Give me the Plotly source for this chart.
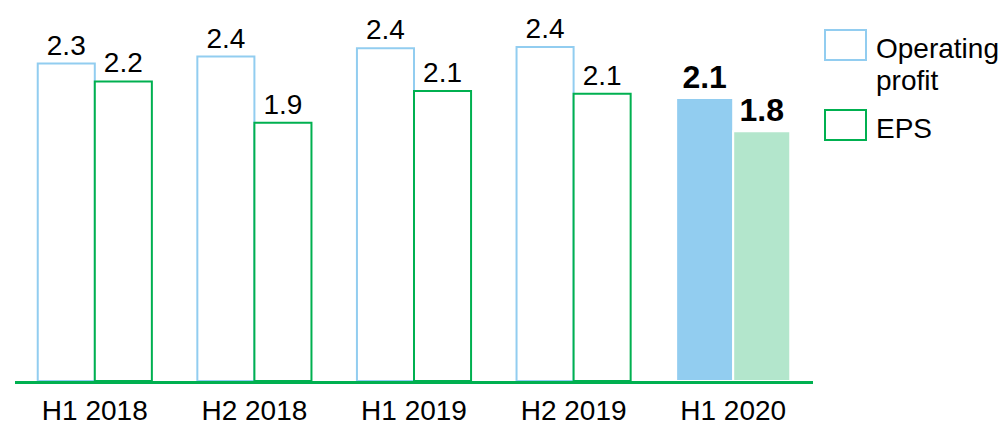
import plotly.graph_objects as go

# categories and values (bar heights, labels as printed)
periods = ["H1 2018", "H2 2018", "H1 2019", "H2 2019", "H1 2020"]
op_values = [2.30, 2.35, 2.41, 2.42, 2.05]
eps_values = [2.17, 1.87, 2.10, 2.08, 1.81]
op_labels = ["2.3", "2.4", "2.4", "2.4", "<b>2.1</b>"]
eps_labels = ["2.2", "1.9", "2.1", "2.1", "<b>1.8</b>"]

BLUE = "#92CDF0"
GREEN = "#00B050"
LIGHT_GREEN = "#B3E6CC"
FONT = "Liberation Sans, Arial, sans-serif"

W, H = 1006, 422
L_M, R_M, T_M, B_M = 15, 193, 0, 41
PW = W - L_M - R_M
PH = H - T_M - B_M


def px_x(x):
    # pixel -> paper coordinate
    return (x - L_M) / PW


def px_y(y):
    return (H - B_M - y) / PH


fig = go.Figure()
fig.add_trace(
    go.Bar(
        x=periods,
        y=op_values,
        text=op_labels,
        textposition="outside",
        constraintext="none",
        textfont=dict(size=[28, 28, 28, 28, 32], color="black", family=FONT),
        marker=dict(
            color=["white"] * 4 + [BLUE],
            line=dict(color=[BLUE] * 4 + ["white"], width=2),
        ),
        cliponaxis=False,
        name="Operating profit",
    )
)
fig.add_trace(
    go.Bar(
        x=periods,
        y=eps_values,
        text=eps_labels,
        textposition="outside",
        constraintext="none",
        textfont=dict(size=[28, 28, 28, 28, 32], color="black", family=FONT),
        marker=dict(
            color=["white"] * 4 + [LIGHT_GREEN],
            line=dict(color=[GREEN] * 4 + ["white"], width=2),
        ),
        cliponaxis=False,
        name="EPS",
    )
)

# legend drawn by hand so the swatches are large like the original
legend_items = [(BLUE, 30, ["Operating", "profit"]), (GREEN, 110, ["EPS"])]
for col, top, lines in legend_items:
    fig.add_shape(
        type="rect",
        xref="paper",
        yref="paper",
        x0=px_x(825),
        x1=px_x(866),
        y0=px_y(top),
        y1=px_y(top + 30),
        line=dict(color=col, width=2),
        fillcolor="white",
    )
    for i, t in enumerate(lines):
        fig.add_annotation(
            xref="paper",
            yref="paper",
            x=px_x(874),
            y=px_y(top + 18 + 32 * i),
            text=t,
            showarrow=False,
            xanchor="left",
            yanchor="middle",
            font=dict(size=28, color="black", family=FONT),
        )

fig.update_layout(
    barmode="group",
    bargap=0.285,
    bargroupgap=0,
    showlegend=False,
    width=W,
    height=H,
    margin=dict(l=L_M, r=R_M, t=T_M, b=B_M, autoexpand=False),
    plot_bgcolor="white",
    paper_bgcolor="white",
    font=dict(family=FONT, size=28, color="black"),
)
fig.update_xaxes(
    showline=True,
    linecolor=GREEN,
    linewidth=3,
    ticks="outside",
    ticklen=2,
    tickcolor="rgba(0,0,0,0)",
    tickfont=dict(size=28, color="black"),
    showgrid=False,
    automargin=False,
)
fig.update_yaxes(range=[0, 2.76], visible=False, showgrid=False, automargin=False)

fig.write_html(
    "out.html",
    config={"displayModeBar": False},
    post_script="document.body.style.margin='0';",
)
